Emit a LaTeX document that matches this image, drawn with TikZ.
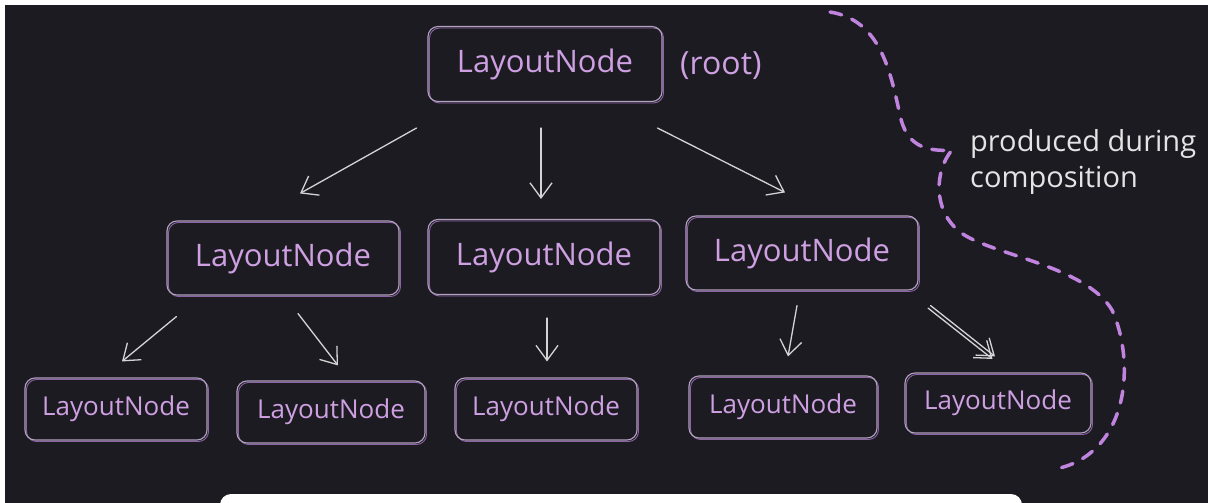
\documentclass[tikz,border=0pt]{standalone}
\usepackage{fontspec}
\setmainfont{Open Sans}
\usetikzlibrary{arrows.meta}

\definecolor{canvas}{RGB}{28,27,34}
\definecolor{label}{RGB}{206,160,226}
\definecolor{boxline}{RGB}{178,162,190}
\definecolor{boxpurple}{RGB}{140,100,165}
\definecolor{arrowgray}{RGB}{212,212,214}
\definecolor{bracepurple}{RGB}{192,132,222}
\definecolor{notegray}{RGB}{228,228,230}

\begin{document}
\begin{tikzpicture}[x=1pt, y=-1pt, >={Straight Barb[length=15pt, width=22pt]}]
    \tikzstyle{format} = [draw=boxline, line width=1.1pt, rounded corners=10pt, text=label, inner sep=0pt,
        font=\fontsize{31}{36}\selectfont,
        preaction={draw=boxpurple, line width=0.9pt, transform canvas={shift={(1.5,1.5)}}}]
    \tikzstyle{leaf} = [format, font=\fontsize{26}{30}\selectfont, minimum height=62pt]
    \tikzstyle{arr} = [->, draw=arrowgray, line width=1.3pt, line cap=round]

    % background
    \useasboundingbox (0,0) rectangle (1208,503);
    \fill[white] (0,0) rectangle (1208,503);
    \fill[canvas] (5,5) rectangle (1208,503);
    \fill[white, rounded corners=11pt] (220,494) rectangle (1022,530);

    % Top row
    \node[format, minimum width=234pt, minimum height=75pt] (root) at (545,64) {LayoutNode};
    \node[text=label, font=\fontsize{32}{36}\selectfont, anchor=west, inner sep=0pt] (rootnote) at (680,66) {(root)};

    % Middle row
    \node[format, minimum width=232pt, minimum height=74pt] (childL) at (283,258) {LayoutNode};
    \node[format, minimum width=232pt, minimum height=75pt] (childM) at (544,257) {LayoutNode};
    \node[format, minimum width=232pt, minimum height=74pt] (childR) at (802,253) {LayoutNode};

    % Bottom row
    \node[leaf, minimum width=182pt] (leafLL) at (116,409) {LayoutNode};
    \node[leaf, minimum width=188pt] (leafLR) at (331,412) {LayoutNode};
    \node[leaf, minimum width=182pt] (leafM) at (546,409) {LayoutNode};
    \node[leaf, minimum width=188pt] (leafRL) at (783,407) {LayoutNode};
    \node[leaf, minimum width=186pt, minimum height=60pt] (leafRR) at (998,403) {LayoutNode};

    % Edges
    \draw[arr] ([shift={(-11,26)}]root.south west) -- ([shift={(17,-27)}]childL.north);
    \draw[arr] ([shift={(-4,26)}]root.south) -- ([shift={(-3,-20)}]childM.north);
    \draw[arr] ([shift={(-5,26)}]root.south east) -- ([shift={(-17,-23)}]childR.north);
    \draw[arr] ([shift={(10,21)}]childL.south west) -- ([shift={(6,-16)}]leafLL.north);
    \draw[arr] ([shift={(15,18)}]childL.south) -- ([shift={(7,-15)}]leafLR.north);
    \draw[arr] ([shift={(3,23)}]childM.south) -- ([shift={(1,-16)}]leafM.north);
    \draw[arr] ([shift={(-5,15)}]childR.south) -- ([shift={(5,-19)}]leafRL.north);
    \draw[arr] ([shift={(12,15)}]childR.south east) -- ([shift={(-3,-16)}]leafRR.north);
    \draw[arr, transform canvas={shift={(-2.5,2.5)}}] ([shift={(12,15)}]childR.south east) -- ([shift={(-3,-16)}]leafRR.north);

    % brace round the produced nodes
    \coordinate (braceTop) at (830,12);
    \coordinate (braceTip) at (952,150);
    \coordinate (braceEnd) at (1060,468);
    \draw[bracepurple, line width=3.5pt, line cap=round, dash pattern=on 12pt off 11pt]
        (braceTop) .. controls (880,20) and (890,70) .. (900,115)
        .. controls (906,145) and (925,152) .. (braceTip)
        .. controls (935,170) and (932,210) .. (960,232)
        .. controls (990,255) and (1085,265) .. (1112,310)
        .. controls (1135,360) and (1130,450) .. (braceEnd);
    \node[text=notegray, font=\fontsize{29}{36}\selectfont, anchor=west, align=left, inner sep=0pt] (note) at (970,162) {produced during\\composition};
\end{tikzpicture}
\end{document}
